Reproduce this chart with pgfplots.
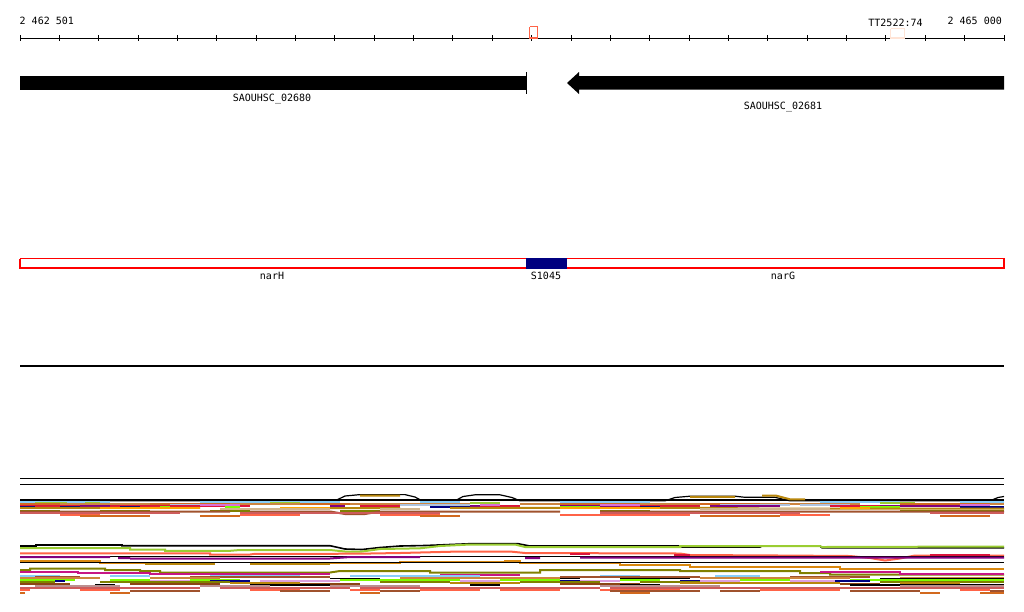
\documentclass[border=0pt]{standalone}
\usepackage{pgfplots}
\pgfplotsset{compat=1.18}
\usepackage{fontspec}
\setmonofont{DejaVu Sans Mono}
\definecolor{olv}{HTML}{808000}
\definecolor{ygr}{HTML}{9ACD32}
\definecolor{tom}{HTML}{FF6347}
\definecolor{pur}{HTML}{800080}
\definecolor{dor}{HTML}{D9880F}
\definecolor{crm}{HTML}{DC143C}
\definecolor{lsb}{HTML}{87CEFA}
\definecolor{lgr}{HTML}{7CFC00}
\definecolor{sie}{HTML}{A0522D}
\definecolor{per}{HTML}{CD853F}
\definecolor{cho}{HTML}{D2691E}
\definecolor{dgr}{HTML}{B8860B}
\definecolor{ird}{HTML}{CD5C5C}
\definecolor{orc}{HTML}{DA70D6}
\definecolor{nav}{HTML}{000080}
\definecolor{sbr}{HTML}{8B4513}
\definecolor{lst}{HTML}{B0C4DE}
\definecolor{rbr}{HTML}{BC8F8F}
\definecolor{mvr}{HTML}{C71585}
\definecolor{pch}{HTML}{FFE4D6}
\definecolor{tnn}{HTML}{D2B48C}
\definecolor{pln}{HTML}{DDA0DD}
\definecolor{org}{HTML}{FFA500}
\definecolor{mark1}{HTML}{FF6347}
\definecolor{gnred}{HTML}{FF0000}
\begin{document}
\begin{tikzpicture}[lbl/.style={font=\ttfamily\fontsize{10}{12}\selectfont, inner sep=0pt}]
\begin{axis}[
  width=1024pt, height=611pt, scale only axis,
  xmin=0, xmax=1024, ymin=0, ymax=611, y dir=reverse,
  hide axis, clip=false,
  unbounded coords=jump,
  every axis plot/.append style={line width=2pt, mark=none},
]
\path (rel axis cs:0,0) rectangle (rel axis cs:1,1);
% ---------- ruler ----------
\addplot[black, line width=1.2pt] coordinates {(20,38.3)(1004,38.3)};
\pgfplotsinvokeforeach{0,...,25}{
  \draw[line width=1pt] (axis cs:{20+#1*39.36},35.3) -- (axis cs:{20+#1*39.36},41.3);
}
\addplot[mark1, line width=1.2pt] coordinates {(529.8,26.5)(537.8,26.5)(537.8,38)(529.8,38)(529.8,26.5)};
\addplot[pch, line width=1.2pt] coordinates {(890.5,28.5)(904.3,28.5)(904.3,38)(890.5,38)(890.5,28.5)};
\node[lbl, anchor=base west] at (axis cs:19.5,24.3) {2 462 501};
\node[lbl, anchor=base east] at (axis cs:1002,24.3) {2 465 000};
\node[lbl, anchor=base] at (axis cs:895.5,26) {TT2522:74};
% ---------- genes ----------
\addplot[fill=black, draw=none] coordinates {(20,76)(526,76)(526,90)(20,90)} -- cycle;
\addplot[black, line width=1.5pt] coordinates {(526.3,72)(526.3,94)};
\addplot[fill=black, draw=none] coordinates {(567,83)(579,72)(579,76)(1004,76)(1004,89.5)(579,89.5)(579,94)} -- cycle;
\node[lbl, anchor=base] at (axis cs:272,101.7) {SAOUHSC\_02680};
\node[lbl, anchor=base] at (axis cs:783,109.5) {SAOUHSC\_02681};
% ---------- operon / feature ----------
\addplot[gnred, line width=1.3pt] coordinates {(20,258.7)(1004,258.7)(1004,268)(20,268)(20,258.7)};
\addplot[fill=nav, draw=none] coordinates {(526,258)(567,258)(567,268.7)(526,268.7)} -- cycle;
\node[lbl, anchor=base] at (axis cs:272,279) {narH};
\node[lbl, anchor=base] at (axis cs:546,279) {S1045};
\node[lbl, anchor=base] at (axis cs:783,279) {narG};
% ---------- separators ----------
\addplot[black, line width=1.4pt] coordinates {(20,366)(1004,366)};
\addplot[black, line width=1.4pt] coordinates {(20,478.3)(1004,478.3)};
\addplot[black, line width=1.4pt] coordinates {(20,484.3)(1004,484.3)};
% ---------- upper band ----------
\addplot[black] coordinates {(20,499.5)(1004,499.5)};
\addplot[black, line width=1.2pt] coordinates {(20,500.8)(335,500.8)(345,496)(360,494.6)(405,494.6)(415,497)(422,500.8)(455,500.8)(463,496.5)(475,494.8)(500,494.8)(512,497.5)(520,500.8)(665,500.8)(675,497.5)(690,496.2)(735,496.2)(745,497.3)(775,497.3)(790,500.8)(990,500.8)(998,497.5)(1004,496.5)};
\addplot[dgr] coordinates {(360,495.6)(400,495.6)(400,nan)(690,496.9)(735,496.9)(735,nan)(762,495.6)(776,495.6)(790,499.3)(805,499.3)};
\addplot[lsb] coordinates {(20,501.8)(110,501.8)(110,nan)(200,501.8)(340,501.8)(340,nan)(420,502)(460,502)(460,nan)(560,502)(650,502)(650,nan)(820,502)(900,502)(900,nan)(960,502)(1004,502)};
\addplot[ygr] coordinates {(35,502.5)(67,502.5)(67,nan)(85,502.5)(100,502.5)(100,nan)(270,502.5)(300,502.5)(300,nan)(470,502.5)(500,502.5)(500,nan)(880,502.5)(915,502.5)};
\addplot[per] coordinates {(20,503.5)(200,503.5)(200,nan)(230,503.5)(330,503.5)(330,nan)(345,503.8)(470,503.8)(470,nan)(520,503.5)(700,503.5)(700,nan)(760,503.5)(860,503.5)(860,nan)(900,503.8)(1004,503.8)};
\addplot[cho] coordinates {(20,504.3)(60,504.3)(60,nan)(150,504.3)(230,504.3)(230,nan)(300,504.3)(350,504.3)(350,nan)(560,504.3)(640,504.3)(640,nan)(700,504.3)(760,504.3)(760,nan)(900,504.3)(990,504.3)};
\addplot[lst] coordinates {(170,504.8)(200,504.8)(200,nan)(400,504.8)(470,504.8)(470,nan)(720,504.8)(790,504.8)(790,nan)(800,504.8)(850,504.8)};
\addplot[crm] coordinates {(20,505.5)(90,505.5)(90,nan)(100,505.5)(250,505.5)(250,nan)(360,505.5)(400,505.5)(400,nan)(470,505.5)(520,505.5)(520,nan)(600,505.5)(700,505.5)(700,nan)(830,505.5)(900,505.5)};
\addplot[pur] coordinates {(80,506)(110,506)(110,nan)(330,506)(345,506)(345,nan)(470,506)(480,506)(480,nan)(560,506)(620,506)(620,nan)(710,506)(780,506)(780,nan)(880,506)(960,506)};
\addplot[orc] coordinates {(200,505.3)(240,505.3)(240,nan)(480,505.3)(500,505.3)(500,nan)(600,505.3)(640,505.3)(640,nan)(960,505.3)(990,505.3)};
\addplot[nav] coordinates {(20,506.5)(35,506.5)(35,nan)(60,506.5)(80,506.5)(80,nan)(120,506.5)(140,506.5)(140,nan)(430,506.5)(470,506.5)(470,nan)(640,506.5)(660,506.5)(660,nan)(960,507)(1004,507)};
\addplot[lgr] coordinates {(160,506.8)(170,506.8)(170,nan)(225,506.8)(240,506.8)(240,nan)(560,506.8)(600,506.8)(600,nan)(860,506.8)(900,506.8)};
\addplot[dgr] coordinates {(20,507.8)(200,507.8)(200,nan)(300,508)(400,508)(400,nan)(450,507.8)(700,507.8)(760,508.5)(1004,508.5)};
\addplot[org] coordinates {(100,508.3)(200,508.3)(200,nan)(280,508.3)(330,508.3)(330,nan)(560,508.3)(660,508.3)(660,nan)(840,508.3)(870,508.3)};
\addplot[tnn] coordinates {(220,509)(330,509)(330,nan)(380,509)(420,509)(420,nan)(700,509)(830,509)};
\addplot[olv] coordinates {(20,510.5)(60,510.5)(60,nan)(100,510.5)(150,510.5)(150,nan)(210,510.5)(250,510.5)(250,nan)(340,510.5)(380,510.5)(380,nan)(600,510.5)(650,510.5)(650,nan)(900,510.5)(1004,510.5)};
\addplot[sie] coordinates {(20,511.5)(230,511.5)(230,nan)(250,511.5)(330,511.5)(345,514)(365,514)(380,511.5)(560,511.5)(560,nan)(600,511.5)(1004,511.5)};
\addplot[ird] coordinates {(20,513)(180,513)(180,nan)(240,513)(440,513)(440,nan)(600,513)(800,513)(800,nan)(930,513)(1004,513)};
\addplot[tom] coordinates {(60,514.5)(100,514.5)(100,nan)(240,514.5)(300,514.5)(300,nan)(380,514.5)(440,514.5)(440,nan)(560,514.5)(690,514.5)(690,nan)(780,514.5)(830,514.5)};
\addplot[cho] coordinates {(80,515.5)(150,515.5)(150,nan)(200,515.5)(240,515.5)(240,nan)(420,515.5)(460,515.5)(460,nan)(700,515.8)(780,515.8)(780,nan)(940,515.5)(990,515.5)};
% ---------- lower band ----------
\addplot[black, line width=1.6pt] coordinates {(20,546)(36,546)(36,545)(122,545)(122,545.7)(330,545.7)(345,549)(362,549.5)(380,547.5)(400,546)(425,545.5)(470,543.7)(518,543.7)(530,546)(680,546)(682,547)(760,547)(762,546)(820,546)(822,547.8)(1004,547.8)};
\addplot[ygr] coordinates {(20,548)(130,548)(130,549.5)(165,549.5)(165,550.8)(230,550.8)(240,550)(330,550)(345,551.5)(362,551.5)(380,549)(420,548.3)(440,546)(470,544.5)(515,544.5)(525,547)(680,547)(680,546)(820,546)(822,547)(1004,546.5)};
\addplot[tom] coordinates {(20,553.3)(210,553.3)(210,554.5)(250,554.5)(255,553.8)(330,553.8)(370,553.5)(400,553)(460,551.5)(510,551.5)(525,553)(680,553.5)(690,555)(780,555.5)(850,556)(870,558)(885,560.5)(900,558.5)(915,555.5)(1004,555.5)};
\addplot[crm] coordinates {(674,555)(690,555)(690,nan)(930,555.2)(990,555.2)(990,nan)(570,554)(590,554)};
\addplot[black, line width=1.6pt] coordinates {(20,556.3)(1004,556.3)};
\addplot[pur] coordinates {(20,557)(110,557)(110,nan)(118,558)(130,558)(130,nan)(130,558.5)(200,558.5)(330,558.5)(350,557)(420,557)(420,nan)(525,558)(540,558)(540,nan)(580,557.5)(1004,557.5)};
\addplot[dor] coordinates {(20,560.5)(100,560.5)(100,562.5)(145,562.5)(145,nan)(330,563.3)(400,563.3)(400,562)(505,562)(505,561)(520,561)(520,563.3)(620,563.3)(620,564.5)(690,564.5)(690,566.5)(840,566.5)(840,568.5)(1004,568.5)};
\addplot[dgr] coordinates {(145,563.5)(215,563.5)(215,nan)(250,564)(330,564)};
\addplot[black, line width=1.6pt] coordinates {(20,562.3)(1004,562.3)};
\addplot[olv] coordinates {(20,570)(30,570)(30,568.7)(105,568.7)(105,570)(140,570)(140,571)(160,571)(160,572.5)(330,572.5)(340,571)(430,571)(430,572.5)(540,572.5)(540,570)(680,570)(680,571)(800,571)(800,573)(830,573)(830,574.5)(1004,574.5)};
\addplot[mvr] coordinates {(20,572)(78,572)(78,573)(150,573)(150,574)(330,574)(330,nan)(440,574.5)(520,574.5)(520,nan)(820,572)(900,572)(900,573.5)(1004,573.5)};
\addplot[lsb] coordinates {(20,575.5)(60,575.5)(60,nan)(110,576)(150,576)(150,nan)(210,575.5)(300,575.5)(300,nan)(350,575.5)(480,575.5)(480,nan)(600,576)(640,576)(640,nan)(715,576)(760,576)(760,nan)(950,578)(1004,578)};
\addplot[sie] coordinates {(35,577)(80,577)(80,nan)(190,577)(330,577)(330,nan)(560,577)(700,577)(700,nan)(790,577)(870,577)};
\addplot[per] coordinates {(20,578)(100,578)(100,nan)(150,578)(220,578)(220,nan)(400,578)(560,578)(560,nan)(700,578)(850,578)(850,nan)(900,578.3)(1004,578.3)};
\addplot[black, line width=1.2pt] coordinates {(330,578.8)(380,578.8)(380,nan)(560,578.8)(580,578.8)(580,nan)(620,578.8)(690,578.8)(690,nan)(880,578.8)(1004,578.8)};
\addplot[lgr] coordinates {(20,579.7)(75,579.7)(75,nan)(110,579.7)(150,579.7)(150,nan)(190,579.7)(240,579.7)(240,nan)(340,579.7)(460,579.7)(460,nan)(500,579.7)(560,579.7)(560,nan)(620,579.7)(660,579.7)(660,nan)(740,579.7)(790,579.7)(790,nan)(850,580)(1004,580)};
\addplot[pln] coordinates {(150,580.5)(190,580.5)(190,nan)(260,580.5)(340,580.5)(340,nan)(460,580.5)(500,580.5)(500,nan)(560,580.5)(620,580.5)(620,nan)(700,580.5)(740,580.5)(740,nan)(790,580.5)(850,580.5)};
\addplot[nav] coordinates {(55,581.3)(65,581.3)(65,nan)(210,581.3)(250,581.3)(250,nan)(560,581.3)(580,581.3)(580,nan)(680,581.3)(700,581.3)(700,nan)(835,581.3)(870,581.3)};
\addplot[olv] coordinates {(20,582.3)(55,582.3)(55,nan)(100,582.3)(230,582.3)(230,nan)(380,582.3)(450,582.3)(450,nan)(520,582.3)(600,582.3)(600,nan)(640,582.3)(700,582.3)(700,nan)(880,582.3)(1004,582.3)};
\addplot[dgr] coordinates {(230,583)(300,583)(300,nan)(450,583)(520,583)(520,nan)(680,583)(840,583)(840,nan)(900,583)(960,583)};
\addplot[sbr] coordinates {(20,584)(70,584)(70,nan)(130,584)(220,584)(220,nan)(300,584)(360,584)(360,nan)(560,584)(640,584)(640,nan)(840,584)(880,584)};
\addplot[black, line width=1.2pt] coordinates {(95,585)(115,585)(115,nan)(250,585)(330,585)(330,nan)(470,585)(500,585)(500,nan)(620,585)(660,585)(660,nan)(850,585)(1004,585)};
\addplot[rbr] coordinates {(35,586.3)(120,586.3)(120,nan)(200,586.3)(270,586.3)(270,nan)(330,586.3)(420,586.3)(420,nan)(600,586.3)(720,586.3)(720,nan)(900,586.3)(1004,586.3)};
\addplot[ird] coordinates {(20,588)(200,588)(200,nan)(220,588)(350,588)(350,nan)(360,588)(600,588)(600,nan)(610,588)(1004,588)};
\addplot[tom] coordinates {(20,590)(30,590)(30,nan)(80,590)(120,590)(120,nan)(250,590)(300,590)(300,nan)(350,590)(380,590)(380,nan)(420,590)(480,590)(480,nan)(500,590)(560,590)(560,nan)(600,590)(680,590)(680,nan)(760,590)(840,590)(840,nan)(960,590)(990,590)};
\addplot[sie] coordinates {(130,591)(200,591)(200,nan)(280,591)(330,591)(330,nan)(380,591)(420,591)(420,nan)(610,591)(700,591)(700,nan)(720,591)(760,591)(760,nan)(850,591)(920,591)(920,nan)(990,591)(1004,591)};
\addplot[cho] coordinates {(20,592.5)(25,592.5)(25,nan)(110,592.5)(130,592.5)(130,nan)(360,592.5)(380,592.5)(380,nan)(620,592.5)(650,592.5)(650,nan)(920,592.5)(940,592.5)(940,nan)(980,592.5)(1004,592.5)};
\end{axis}
\end{tikzpicture}
\end{document}
